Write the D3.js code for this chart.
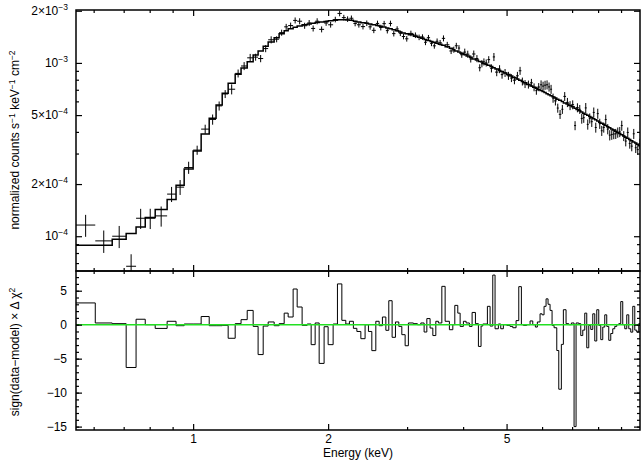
<!DOCTYPE html>
<html>
<head>
<meta charset="utf-8">
<script src="https://d3js.org/d3.v7.min.js"></script>
<style>
  body { margin: 0; background: #fff; }
  svg { font-family: "Liberation Sans", Arial, Helvetica, sans-serif; }
  .tick line { stroke: #000; stroke-width: 1.2px; }
  .tick text { font-size: 12px; fill: #000; }
  .frame { fill: none; stroke: #000; stroke-width: 1.5px; }
  .model { fill: none; stroke: #000; stroke-width: 1.5px; }
  .cross { stroke: #000; stroke-width: 1px; }
  .resid { fill: none; stroke: #000; stroke-width: 1px; }
  .zero { stroke: #22e022; stroke-width: 1.5px; }
  .lab { font-size: 12px; fill: #000; }
</style>
</head>
<body>
<svg width="641" height="464"></svg>
<script>
// energy bin edges (keV)
var edges = [0.548, 0.605, 0.660, 0.709, 0.746, 0.782, 0.823, 0.875, 0.916, 0.955, 1.000,
  1.042, 1.086, 1.125, 1.161, 1.197, 1.241, 1.279, 1.320, 1.361, 1.396, 1.433, 1.470, 1.516,
  1.555, 1.596, 1.629, 1.671, 1.706, 1.750, 1.796, 1.833, 1.871, 1.910, 1.959, 2.000, 2.052,
  2.098, 2.146, 2.190, 2.231, 2.277, 2.318, 2.366, 2.418, 2.460, 2.503, 2.555, 2.599, 2.643,
  2.690, 2.731, 2.778, 2.826, 2.875, 2.920, 2.970, 3.020, 3.099, 3.163, 3.219, 3.274, 3.320,
  3.376, 3.424, 3.477, 3.523, 3.586, 3.647, 3.728, 3.794, 3.833, 3.892, 3.939, 4.006, 4.062,
  4.131, 4.189, 4.261, 4.327, 4.386, 4.425, 4.477, 4.531, 4.594, 4.658, 4.713, 4.794, 4.853,
  4.918, 5.005, 5.091, 5.162, 5.250, 5.323, 5.395, 5.450, 5.546, 5.641, 5.720, 5.797, 5.856,
  5.938, 6.000, 6.061, 6.124, 6.187, 6.251, 6.316, 6.381, 6.470, 6.537, 6.624, 6.693, 6.786,
  6.881, 6.973, 7.071, 7.144, 7.244, 7.318, 7.394, 7.470, 7.547, 7.625, 7.704, 7.784, 7.864,
  7.945, 8.027, 8.110, 8.193, 8.278, 8.363, 8.450, 8.537, 8.625, 8.714, 8.804, 8.895, 8.987,
  9.079, 9.173, 9.268, 9.364, 9.460, 9.558, 9.657, 9.756, 9.857, 9.974];

// folded model, counts s^-1 keV^-1 cm^-2
var model = [0.887e-4, 0.887e-4, 0.961e-4, 1.036e-4, 1.132e-4, 1.282e-4, 1.426e-4, 1.630e-4,
  1.97e-4, 2.44e-4, 3.10e-4, 3.89e-4, 4.79e-4, 5.72e-4, 6.68e-4, 7.63e-4, 8.61e-4, 9.36e-4,
  10.14e-4, 11.12e-4, 11.73e-4, 12.46e-4, 13.22e-4, 13.95e-4, 14.72e-4, 15.31e-4, 15.73e-4,
  16.07e-4, 16.35e-4, 16.61e-4, 16.77e-4, 16.95e-4, 17.11e-4, 17.20e-4, 17.33e-4, 17.50e-4,
  17.61e-4, 17.73e-4, 17.73e-4, 17.68e-4, 17.61e-4, 17.38e-4, 17.20e-4, 17.05e-4, 16.95e-4,
  16.77e-4, 16.61e-4, 16.45e-4, 16.28e-4, 16.10e-4, 15.92e-4, 15.73e-4, 15.52e-4, 15.31e-4,
  15.10e-4, 14.90e-4, 14.72e-4, 14.53e-4, 14.24e-4, 14.05e-4, 13.86e-4, 13.67e-4, 13.49e-4,
  13.31e-4, 13.14e-4, 12.99e-4, 12.83e-4, 12.63e-4, 12.38e-4, 12.14e-4, 11.93e-4, 11.73e-4,
  11.57e-4, 11.38e-4, 11.17e-4, 10.97e-4, 10.78e-4, 10.55e-4, 10.41e-4, 10.20e-4, 10.12e-4,
  9.93e-4, 9.84e-4, 9.69e-4, 9.53e-4, 9.38e-4, 9.22e-4, 9.05e-4, 8.92e-4, 8.76e-4, 8.58e-4,
  8.41e-4, 8.25e-4, 8.08e-4, 7.94e-4, 7.82e-4, 7.68e-4, 7.51e-4, 7.37e-4, 7.24e-4, 7.14e-4,
  7.02e-4, 6.94e-4, 6.84e-4, 6.74e-4, 6.65e-4, 6.56e-4, 6.47e-4, 6.38e-4, 6.28e-4, 6.17e-4,
  6.09e-4, 5.98e-4, 5.88e-4, 5.79e-4, 5.68e-4, 5.59e-4, 5.48e-4, 5.39e-4, 5.29e-4, 5.21e-4,
  5.13e-4, 5.05e-4, 4.99e-4, 4.91e-4, 4.84e-4, 4.76e-4, 4.70e-4, 4.63e-4, 4.55e-4, 4.48e-4,
  4.42e-4, 4.35e-4, 4.28e-4, 4.22e-4, 4.15e-4, 4.10e-4, 4.03e-4, 3.97e-4, 3.91e-4, 3.85e-4,
  3.79e-4, 3.73e-4, 3.67e-4, 3.61e-4, 3.56e-4, 3.50e-4, 3.45e-4, 3.39e-4, 3.33e-4];

// measured spectrum
var counts = [1.16e-4, 0.94e-4, 1.00e-4, 0.671e-4, 1.27e-4, 1.27e-4, 1.31e-4, 1.75e-4, 1.92e-4,
  2.49e-4, 3.14e-4, 4.15e-4, 4.72e-4, 5.65e-4, 6.62e-4, 7.05e-4, 8.70e-4, 9.60e-4, 10.7e-4,
  10.8e-4, 10.6e-4, 12.1e-4, 13.6e-4, 13.7e-4, 14.95e-4, 16.15e-4, 16.43e-4, 17.59e-4, 17.4e-4,
  16.39e-4, 17.0e-4, 15.81e-4, 17.4e-4, 15.62e-4, 17.0e-4, 16.6e-4, 17.8e-4, 19.3e-4, 18.26e-4,
  17.9e-4, 18.1e-4, 16.9e-4, 16.6e-4, 16.2e-4, 16.95e-4, 16.15e-4, 15.42e-4, 16.9e-4, 16.0e-4,
  16.85e-4, 15.36e-4, 16.9e-4, 14.76e-4, 15.7e-4, 14.84e-4, 14.2e-4, 13.78e-4, 14.8e-4,
  14.45e-4, 14.05e-4, 14.1e-4, 13.15e-4, 13.98e-4, 12.97e-4, 12.55e-4, 13.34e-4, 13.07e-4,
  13.86e-4, 12.72e-4, 11.72e-4, 11.93e-4, 12.56e-4, 12.18e-4, 11.15e-4, 11.55e-4, 11.23e-4,
  10.55e-4, 11.26e-4, 10.6e-4, 9.38e-4, 9.9e-4, 10.14e-4, 10.0e-4, 10.45e-4, 9.31e-4, 10.83e-4,
  8.85e-4, 9.21e-4, 8.56e-4, 8.76e-4, 8.43e-4, 8.18e-4, 7.95e-4, 8.43e-4, 9.01e-4, 7.82e-4,
  7.56e-4, 7.51e-4, 7.68e-4, 7.24e-4, 6.92e-4, 7.26e-4, 7.48e-4, 7.35e-4, 7.44e-4, 7.48e-4,
  7.27e-4, 7.05e-4, 6.27e-4, 6.04e-4, 5.49e-4, 5.05e-4, 5.40e-4, 6.41e-4, 5.92e-4, 5.68e-4,
  5.74e-4, 4.35e-4, 5.52e-4, 5.40e-4, 4.78e-4, 4.83e-4, 5.50e-4, 4.42e-4, 4.79e-4, 4.58e-4,
  5.18e-4, 4.24e-4, 5.10e-4, 4.46e-4, 4.06e-4, 4.24e-4, 4.71e-4, 4.15e-4, 3.83e-4, 3.86e-4,
  3.89e-4, 3.90e-4, 3.97e-4, 4.00e-4, 4.35e-4, 3.79e-4, 3.54e-4, 3.97e-4, 3.43e-4, 3.31e-4,
  3.90e-4, 3.24e-4, 3.16e-4, 3.42e-4];

// 1-sigma errors on the spectrum
var errs = [0.168e-4, 0.139e-4, 0.146e-4, 0.116e-4, 0.169e-4, 0.17e-4, 0.174e-4, 0.175e-4,
  0.19e-4, 0.20e-4, 0.19e-4, 0.25e-4, 0.32e-4, 0.34e-4, 0.35e-4, 0.47e-4, 0.46e-4, 0.51e-4,
  0.57e-4, 0.50e-4, 0.51e-4, 0.57e-4, 0.64e-4, 0.55e-4, 0.60e-4, 0.65e-4, 0.66e-4, 0.70e-4,
  0.70e-4, 0.66e-4, 0.68e-4, 0.63e-4, 0.70e-4, 0.62e-4, 0.63e-4, 0.62e-4, 0.66e-4, 0.72e-4,
  0.68e-4, 0.66e-4, 0.67e-4, 0.63e-4, 0.62e-4, 0.60e-4, 0.63e-4, 0.60e-4, 0.57e-4, 0.63e-4,
  0.60e-4, 0.63e-4, 0.57e-4, 0.63e-4, 0.55e-4, 0.58e-4, 0.55e-4, 0.53e-4, 0.51e-4, 0.55e-4,
  0.54e-4, 0.52e-4, 0.52e-4, 0.49e-4, 0.52e-4, 0.48e-4, 0.47e-4, 0.50e-4, 0.49e-4, 0.55e-4,
  0.51e-4, 0.47e-4, 0.48e-4, 0.50e-4, 0.49e-4, 0.45e-4, 0.54e-4, 0.53e-4, 0.50e-4, 0.53e-4,
  0.50e-4, 0.44e-4, 0.47e-4, 0.48e-4, 0.47e-4, 0.49e-4, 0.50e-4, 0.58e-4, 0.47e-4, 0.49e-4,
  0.45e-4, 0.46e-4, 0.45e-4, 0.43e-4, 0.42e-4, 0.45e-4, 0.48e-4, 0.41e-4, 0.40e-4, 0.40e-4,
  0.41e-4, 0.38e-4, 0.37e-4, 0.39e-4, 0.45e-4, 0.44e-4, 0.45e-4, 0.45e-4, 0.44e-4, 0.42e-4,
  0.38e-4, 0.36e-4, 0.33e-4, 0.30e-4, 0.32e-4, 0.38e-4, 0.36e-4, 0.34e-4, 0.34e-4, 0.26e-4,
  0.33e-4, 0.32e-4, 0.32e-4, 0.32e-4, 0.37e-4, 0.30e-4, 0.32e-4, 0.31e-4, 0.35e-4, 0.28e-4,
  0.34e-4, 0.30e-4, 0.27e-4, 0.28e-4, 0.32e-4, 0.28e-4, 0.26e-4, 0.26e-4, 0.26e-4, 0.26e-4,
  0.27e-4, 0.27e-4, 0.29e-4, 0.25e-4, 0.24e-4, 0.27e-4, 0.23e-4, 0.22e-4, 0.26e-4, 0.22e-4,
  0.21e-4, 0.23e-4];

// sign(data-model) x delta chi^2
var delchi = [3.2, 0.25, 0.15, -6.3, 0.8, 0, -0.55, 0.5, -0.15, 0.1, 0.1, 1.2, -0.15, -0.15,
  -0.1, -2.0, 0.15, 0.74, 2.1, -0.25, -4.4, -0.2, 0.4, -0.15, 0.15, 1.7, 1.13, 5.25, 2.6, -0.1,
  0.1, -2.94, 0.25, -5.7, -0.3, -2.94, 0.1, 6.0, 0.64, 0.1, 0.5, -0.54, -1.0, -2.06, 0, -1.0,
  -3.82, 0.5, -0.15, 1.13, -0.83, 3.53, -1.86, 0.4, -0.25, -1.47, -3.1, 0.25, 0.15, 0, 0.25,
  -1.08, 0.9, -0.5, -1.6, 0.5, 0.25, 5.64, 0.5, -0.74, 0, 2.84, 1.7, -0.25, 0.5, 0.25, -0.25,
  1.8, 0.15, -3.2, -0.2, 0.1, 0.1, 2.7, -0.2, 7.3, -0.6, 0.1, -0.6, 0, -0.1, -0.25, -0.45, 0.6,
  5.6, 0, -0.1, 0, 0.55, 0, -0.35, 0.4, 1.6, 1.45, 2.7, 3.8, 3.0, 2.1, -0.1, -0.45, -3.8, -9.5,
  -2.9, 2.2, 0.15, 0, 0.25, -15.0, 0.25, 0.15, -1.6, -0.8, 1.7, -3.4, -0.1, -0.7, 1.6, -2.4,
  2.2, -0.1, -2.2, -0.35, 1.45, -0.25, -2.3, -1.3, -0.6, -0.25, 0, 0.15, 3.4, 0, -0.6, 1.45,
  -0.6, -1.1, 2.7, -0.8, -1.1, 0.15];

var xMajor = [1, 2, 5];
var xMinor = [0.6, 0.7, 0.8, 0.9, 3, 4, 6, 7, 8, 9];
var yMajor = [1e-4, 2e-4, 5e-4, 1e-3, 2e-3];
var yMajorLabels = [["", "\u22124"], ["2\u00d7", "\u22124"], ["5\u00d7", "\u22124"], ["", "\u22123"], ["2\u00d7", "\u22123"]];
var yMinor = [7e-5, 8e-5, 9e-5, 3e-4, 4e-4, 6e-4, 7e-4, 8e-4, 9e-4];
var rMajor = [-15, -10, -5, 0, 5];
var rMinor = d3.range(-15, 8);

var svg = d3.select("svg");
var padL = 76, padR = 640, padT = 10, padM = 271, padB = 430;

var x = d3.scaleLog().domain([0.548, 9.92]).range([padL, padR]);
var yU = d3.scaleLog().domain([6.3e-5, 2.02e-3]).range([padM, padT]);
var yL = d3.scaleLinear().domain([-15.5, 7.9]).range([padB, padM]);

var bins = delchi.map(function(r, i) {
  return { lo: edges[i], hi: edges[i + 1], m: model[i], d: counts[i], e: errs[i], r: r };
});

var defs = svg.append("defs");
defs.append("clipPath").attr("id", "clipU").append("rect")
  .attr("x", padL).attr("y", padT).attr("width", padR - padL).attr("height", padM - padT);
defs.append("clipPath").attr("id", "clipL").append("rect")
  .attr("x", padL).attr("y", padM).attr("width", padR - padL).attr("height", padB - padM);

// ---- upper panel: data + model
var up = svg.append("g").attr("clip-path", "url(#clipU)");

var cross = up.selectAll(".pt").data(bins).enter().append("g").attr("class", "pt");
cross.append("line").attr("class", "cross")
  .attr("x1", function(d) { return x(d.lo); })
  .attr("x2", function(d) { return x(d.hi); })
  .attr("y1", function(d) { return yU(d.d); })
  .attr("y2", function(d) { return yU(d.d); });
cross.append("line").attr("class", "cross")
  .attr("x1", function(d) { return x(Math.sqrt(d.lo * d.hi)); })
  .attr("x2", function(d) { return x(Math.sqrt(d.lo * d.hi)); })
  .attr("y1", function(d) { return yU(d.d - d.e); })
  .attr("y2", function(d) { return yU(d.d + d.e); });

var stepPts = function(acc) {
  var pts = bins.map(function(d) { return [d.lo, acc(d)]; });
  var last = bins[bins.length - 1];
  pts.push([last.hi, acc(last)]);
  return pts;
};

up.append("path").attr("class", "model")
  .attr("d", d3.line().curve(d3.curveStepAfter)
    .x(function(p) { return x(p[0]); })
    .y(function(p) { return yU(p[1]); })(stepPts(function(d) { return d.m; })));

// ---- lower panel: residuals
var low = svg.append("g").attr("clip-path", "url(#clipL)");
low.append("path").attr("class", "resid")
  .attr("d", d3.line().curve(d3.curveStepAfter)
    .x(function(p) { return x(p[0]); })
    .y(function(p) { return yL(p[1]); })(stepPts(function(d) { return d.r; })));
low.append("line").attr("class", "zero")
  .attr("x1", padL).attr("x2", padR)
  .attr("y1", yL(0)).attr("y2", yL(0));

// ---- axes (ticks inside on every side)
function noDomain(g) { g.select(".domain").remove(); }
function tickAxis(axis, vals, size, tx, ty) {
  svg.append("g").attr("transform", "translate(" + tx + "," + ty + ")")
    .call(axis.tickValues(vals).tickSize(-size).tickFormat(""))
    .call(noDomain);
}

// x ticks: top of upper panel, both sides of the shared middle line, bottom
[[d3.axisTop, padT], [d3.axisBottom, padM], [d3.axisTop, padM]].forEach(function(a) {
  tickAxis(a[0](x), xMajor, 6, 0, a[1]);
  tickAxis(a[0](x), xMinor, 3, 0, a[1]);
});
tickAxis(d3.axisBottom(x), xMinor, 3, 0, padB);
svg.append("g").attr("transform", "translate(0," + padB + ")")
  .call(d3.axisBottom(x).tickValues(xMajor).tickSize(-6).tickPadding(4)
    .tickFormat(d3.format("d")))
  .call(noDomain);

// upper y ticks
tickAxis(d3.axisLeft(yU), yMajor, 6, padL, 0);
tickAxis(d3.axisLeft(yU), yMinor, 3, padL, 0);
tickAxis(d3.axisRight(yU), yMajor, 6, padR, 0);
tickAxis(d3.axisRight(yU), yMinor, 3, padR, 0);

var yl = svg.append("g").selectAll("text").data(yMajor).enter().append("text")
  .attr("class", "lab")
  .attr("text-anchor", "end")
  .attr("x", padL - 8)
  .attr("y", function(d) { return yU(d) + 4; });
yl.append("tspan").text(function(d, i) { return yMajorLabels[i][0] + "10"; });
yl.append("tspan").attr("dy", -5).attr("font-size", "8.5px")
  .text(function(d, i) { return yMajorLabels[i][1]; });

// lower y ticks
tickAxis(d3.axisLeft(yL), rMinor, 3, padL, 0);
tickAxis(d3.axisRight(yL), rMinor, 3, padR, 0);
tickAxis(d3.axisRight(yL), rMajor, 6, padR, 0);
svg.append("g").attr("transform", "translate(" + padL + ",0)")
  .call(d3.axisLeft(yL).tickValues(rMajor).tickSize(-6).tickPadding(9))
  .call(noDomain);

// frames
svg.append("rect").attr("class", "frame")
  .attr("x", padL).attr("y", padT).attr("width", padR - padL).attr("height", padM - padT);
svg.append("rect").attr("class", "frame")
  .attr("x", padL).attr("y", padM).attr("width", padR - padL).attr("height", padB - padM);

// titles
svg.append("text").attr("class", "lab")
  .attr("x", (padL + padR) / 2).attr("y", 457)
  .attr("text-anchor", "middle").text("Energy (keV)");

var t1 = svg.append("text").attr("class", "lab")
  .attr("transform", "translate(19,140) rotate(-90)")
  .attr("text-anchor", "middle");
t1.append("tspan").text("normalized counts s");
t1.append("tspan").attr("dy", -4).attr("font-size", "8.5px").text("\u22121");
t1.append("tspan").attr("dy", 4).text(" keV");
t1.append("tspan").attr("dy", -4).attr("font-size", "8.5px").text("\u22121");
t1.append("tspan").attr("dy", 4).text(" cm");
t1.append("tspan").attr("dy", -4).attr("font-size", "8.5px").text("\u22122");

var t2 = svg.append("text").attr("class", "lab")
  .attr("transform", "translate(19,352) rotate(-90)")
  .attr("text-anchor", "middle");
t2.append("tspan").text("sign(data\u2212model) \u00d7 \u0394 \u03c7");
t2.append("tspan").attr("dy", -4).attr("font-size", "8.5px").text("2");
</script>
</body>
</html>
